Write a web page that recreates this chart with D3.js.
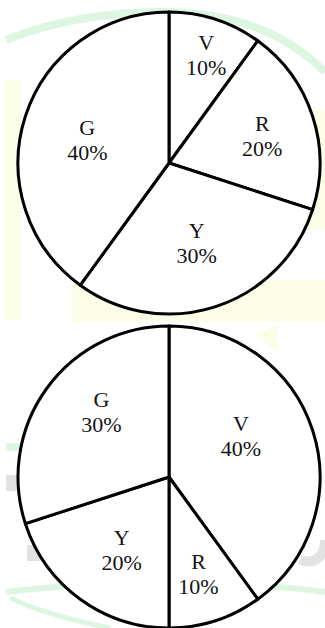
<!DOCTYPE html>
<html>
<head>
<meta charset="utf-8">
<script src="https://cdn.jsdelivr.net/npm/d3@7/dist/d3.min.js"></script>
<style>
  html, body { margin: 0; padding: 0; background: #ffffff; }
  svg { display: block; }
  text { font-family: "Liberation Serif", "Times New Roman", serif; }
</style>
</head>
<body>
<svg id="chart" width="325" height="628"></svg>
<script>
// Colour shares, two survey groups; slices run clockwise from 12 o'clock
const categories = ["V", "R", "Y", "G"];
const groupA = [10, 20, 30, 40];
const groupB = [40, 10, 20, 30];

const W = 325, H = 628;
const svg = d3.select("#chart");

// faint background artwork
const bg = svg.append("g");
bg.append("path").attr("d", "M6,40 C70,14 170,2 240,22 C280,34 305,52 325,72")
  .attr("fill", "none").attr("stroke", "#dcf6e2").attr("stroke-width", 8);
bg.append("rect").attr("x", 6).attr("y", 80).attr("width", 16).attr("height", 240).attr("fill", "#fbfde6");
bg.append("rect").attr("x", 72).attr("y", 280).attr("width", 253).attr("height", 42).attr("fill", "#fbfde6");
bg.append("rect").attr("x", 300).attr("y", 110).attr("width", 25).attr("height", 120).attr("fill", "#fbfde6");
bg.append("path").attr("d", "M255,335 L278,325 L278,352 Z").attr("fill", "#fbfde6");
bg.append("rect").attr("x", 6).attr("y", 443).attr("width", 20).attr("height", 8).attr("fill", "#dcf6e2");
bg.append("rect").attr("x", 6).attr("y", 475).attr("width", 20).attr("height", 16).attr("fill", "#e2e2e2");
bg.append("rect").attr("x", 27).attr("y", 545).attr("width", 14).attr("height", 16).attr("fill", "#e2e2e2");
bg.append("path").attr("d", "M300,560 C318,566 325,552 325,540")
  .attr("fill", "none").attr("stroke", "#e2e2e2").attr("stroke-width", 10);
bg.append("path").attr("d", "M6,592 C80,582 250,580 325,592")
  .attr("fill", "none").attr("stroke", "#dcf6e2").attr("stroke-width", 6);
bg.append("path").attr("d", "M10,598 C40,612 80,622 110,628")
  .attr("fill", "none").attr("stroke", "#dcf6e2").attr("stroke-width", 5);

// per-slice label spot: [radius, angle nudge in degrees]
const spotsA = [[114, 1], [97, 2], [85, -1], [85, -2]];
const spotsB = [[83, -12], [101, 1], [87, -3], [94, 8]];

function drawPie(values, cx, cy, r, spots) {
  const pie = d3.pie().sort(null).value(d => d.v);
  const arcs = pie(categories.map((c, i) => ({ c, v: values[i] })));
  const arc = d3.arc().innerRadius(0).outerRadius(r);
  const g = svg.append("g").attr("transform", `translate(${cx},${cy})`);

  g.selectAll("path.slice").data(arcs).join("path")
    .attr("class", "slice")
    .attr("d", arc)
    .attr("fill", "#ffffff")
    .attr("stroke", "#000000")
    .attr("stroke-width", 3)
    .attr("stroke-linejoin", "round");

  const lbl = g.selectAll("g.lbl").data(arcs).join("g")
    .attr("class", "lbl")
    .attr("transform", (d, i) => {
      const [rr, nudge] = spots[i];
      const a = (d.startAngle + d.endAngle) / 2 + nudge * Math.PI / 180;
      const p = d3.arc().innerRadius(rr).outerRadius(rr).centroid({ startAngle: a, endAngle: a });
      return `translate(${p[0]},${p[1]})`;
    });
  lbl.append("text").attr("y", -12.5).attr("text-anchor", "middle")
    .attr("dominant-baseline", "central").attr("font-size", 22).attr("fill", "#141414")
    .text(d => d.data.c);
  lbl.append("text").attr("y", 12.5).attr("text-anchor", "middle")
    .attr("dominant-baseline", "central").attr("font-size", 22).attr("fill", "#141414")
    .text(d => d.data.v + "%");
}

drawPie(groupA, 169, 163, 151, spotsA);
drawPie(groupB, 169, 477, 151, spotsB);
</script>
</body>
</html>
